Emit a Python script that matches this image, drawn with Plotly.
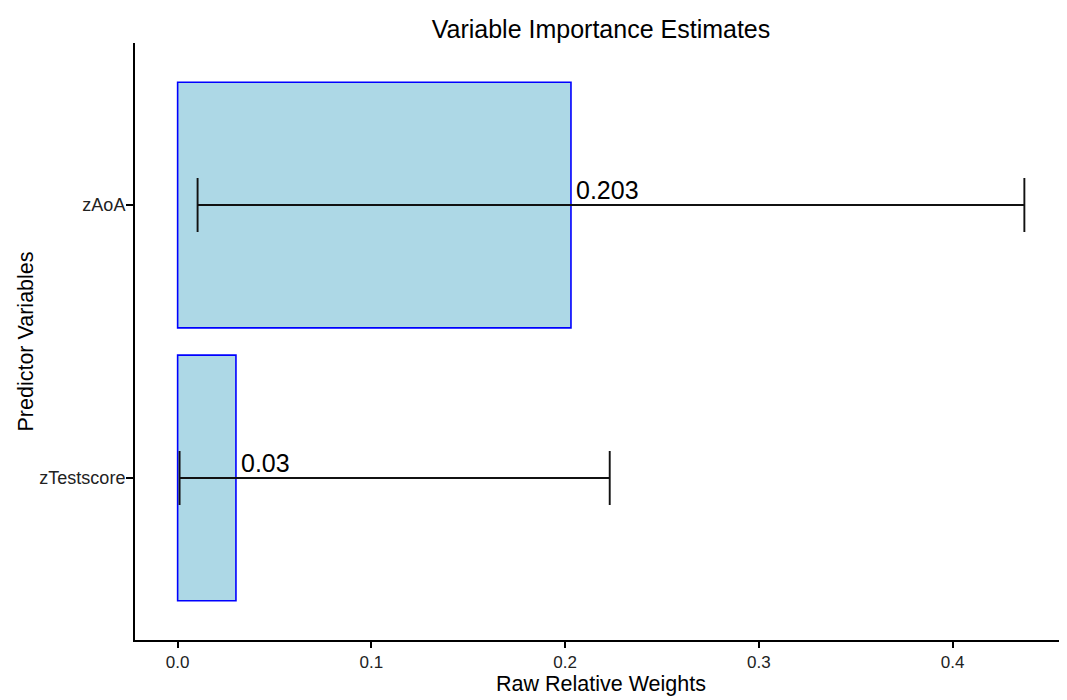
import plotly.graph_objects as go

categories = ["zTestscore", "zAoA"]
weights = [0.0301, 0.203]
ci_lower = [0.001, 0.0103]
ci_upper = [0.223, 0.437]
labels = ["0.03", "0.203"]
x_ticks = [0.0, 0.1, 0.2, 0.3, 0.4]
x_tick_text = ["0.0", "0.1", "0.2", "0.3", "0.4"]

err_plus = [u - w for u, w in zip(ci_upper, weights)]
err_minus = [w - l for w, l in zip(weights, ci_lower)]

FONT = "Liberation Sans, Arial, Helvetica, sans-serif"

fig = go.Figure()
fig.add_trace(go.Bar(
    y=categories, x=weights, orientation="h", width=0.9,
    marker=dict(color="#ADD8E6", line=dict(color="#0000FF", width=1.6)),
    error_x=dict(type="data", symmetric=False, array=err_plus, arrayminus=err_minus,
                 color="#111111", thickness=1.9, width=27),
    showlegend=False, hoverinfo="skip",
))

for c, w, t in zip(categories, weights, labels):
    fig.add_annotation(x=w, y=c, text=t, showarrow=False, xanchor="left", yanchor="bottom",
                       xshift=3, yshift=-1, font=dict(family=FONT, size=25, color="black"))

# the page body adds an 8px offset, so the figure geometry is shifted by -8px
fig.update_layout(
    width=1067, height=700,
    margin=dict(l=127, r=8, t=35, b=68, autoexpand=False),
    paper_bgcolor="white", plot_bgcolor="white",
    font=dict(family=FONT, color="black"),
    title=dict(text="Variable Importance Estimates", xref="paper", x=0.5, xanchor="center",
               yref="container", y=0.969, yanchor="middle", automargin=False,
               font=dict(family=FONT, size=25, color="black")),
)
fig.update_xaxes(
    range=[-0.022, 0.459], tickvals=x_ticks, ticktext=x_tick_text,
    showline=True, linecolor="black", linewidth=2, mirror=False,
    ticks="outside", ticklen=6, tickwidth=1.5, tickcolor="black",
    showgrid=False, zeroline=False, automargin=False,
    tickfont=dict(family=FONT, size=17, color="#222222"),
    title=dict(text="Raw Relative Weights", font=dict(family=FONT, size=21.5, color="black"), standoff=0),
)
fig.update_yaxes(
    type="category", categoryorder="array", categoryarray=categories,
    range=[-0.594, 1.594],
    showline=True, linecolor="black", linewidth=2,
    ticks="outside", ticklen=7, tickwidth=1.5, tickcolor="black",
    ticklabelstandoff=-3,
    showgrid=False, zeroline=False, automargin=False,
    tickfont=dict(family=FONT, size=18, color="#222222"),
    title=dict(text="Predictor Variables", font=dict(family=FONT, size=21.5, color="black"), standoff=0),
)

fig.write_html("out.html")
